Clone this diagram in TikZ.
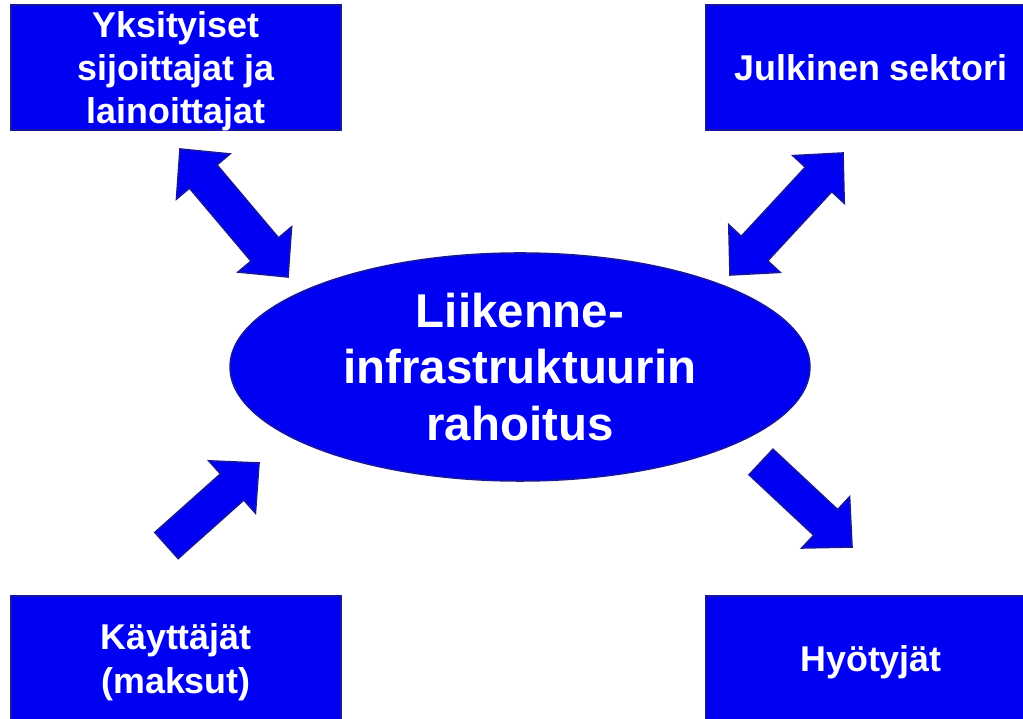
\documentclass[tikz,border=0pt]{standalone}
\usepackage{fontspec}
\setmainfont{Liberation Sans}
\usetikzlibrary{shapes.geometric,calc}
\definecolor{boxblue}{RGB}{0,0,242}
\definecolor{edgeblue}{RGB}{22,22,160}
\tikzset{
  box/.style={rectangle,draw=edgeblue,fill=boxblue,line width=0.9pt,minimum width=6.6cm,minimum height=2.5cm,inner sep=0pt,text depth=0pt,align=center,text=white,font=\bfseries\fontsize{20.4}{24.6}\selectfont},
  hub/.style={ellipse,draw=edgeblue,fill=boxblue,line width=0.9pt,minimum width=11.6cm,minimum height=4.56cm,inner sep=0pt,align=center,text=white,font=\bfseries\fontsize{27}{32.4}\selectfont},
  fat/.style={draw=edgeblue,fill=boxblue,line width=0.9pt,to path={
    ($(\tikztostart)!0.35cm!90:(\tikztotarget)$)
    -- ($(\tikztotarget)!0.72cm!(\tikztostart)!0.35cm!90:(\tikztotarget)$)
    -- ($(\tikztotarget)!0.72cm!(\tikztostart)!0.7cm!90:(\tikztotarget)$)
    -- (\tikztotarget)
    -- ($(\tikztotarget)!0.72cm!(\tikztostart)!0.7cm!-90:(\tikztotarget)$)
    -- ($(\tikztotarget)!0.72cm!(\tikztostart)!0.35cm!-90:(\tikztotarget)$)
    -- ($(\tikztostart)!0.35cm!-90:(\tikztotarget)$) -- cycle}},
  fatboth/.style={draw=edgeblue,fill=boxblue,line width=0.9pt,to path={
    (\tikztostart)
    -- ($(\tikztostart)!0.72cm!(\tikztotarget)!0.7cm!-90:(\tikztostart)$)
    -- ($(\tikztostart)!0.72cm!(\tikztotarget)!0.36cm!-90:(\tikztostart)$)
    -- ($(\tikztotarget)!0.72cm!(\tikztostart)!0.36cm!90:(\tikztotarget)$)
    -- ($(\tikztotarget)!0.72cm!(\tikztostart)!0.7cm!90:(\tikztotarget)$)
    -- (\tikztotarget)
    -- ($(\tikztotarget)!0.72cm!(\tikztostart)!0.7cm!-90:(\tikztotarget)$)
    -- ($(\tikztotarget)!0.72cm!(\tikztostart)!0.36cm!-90:(\tikztotarget)$)
    -- ($(\tikztostart)!0.72cm!(\tikztotarget)!0.36cm!90:(\tikztostart)$)
    -- ($(\tikztostart)!0.72cm!(\tikztotarget)!0.7cm!90:(\tikztostart)$)
    -- cycle}}
}
\begin{document}
\begin{tikzpicture}[x=0.02cm,y=0.02cm]
\useasboundingbox (0,0) rectangle (1023,719);

\node[box] (Y) at (176,651.5) {Yksityiset\\sijoittajat ja\\lainoittajat};
\node[box] (J) at (871,651.5) {Julkinen sektori};
\node[box] (K) at (176,60.5) {Käyttäjät\\(maksut)};
\node[box] (H) at (871,60.5) {Hyötyjät};
\node[hub] (R) at (520,352) {Liikenne-\\infrastruktuurin\\rahoitus};

\coordinate (Y1) at (180,570);
\coordinate (Y2) at (288,442);
\coordinate (J1) at (843,566);
\coordinate (J2) at (730,444);
\coordinate (K1) at (166.5,173.5);
\coordinate (K2) at (259,256);
\coordinate (H1) at (761,257);
\coordinate (H2) at (852,172);

\path (Y1) edge[fatboth] (Y2);
\path (J1) edge[fatboth] (J2);
\path (K1) edge[fat] (K2);
\path (H1) edge[fat] (H2);

\end{tikzpicture}
\end{document}
